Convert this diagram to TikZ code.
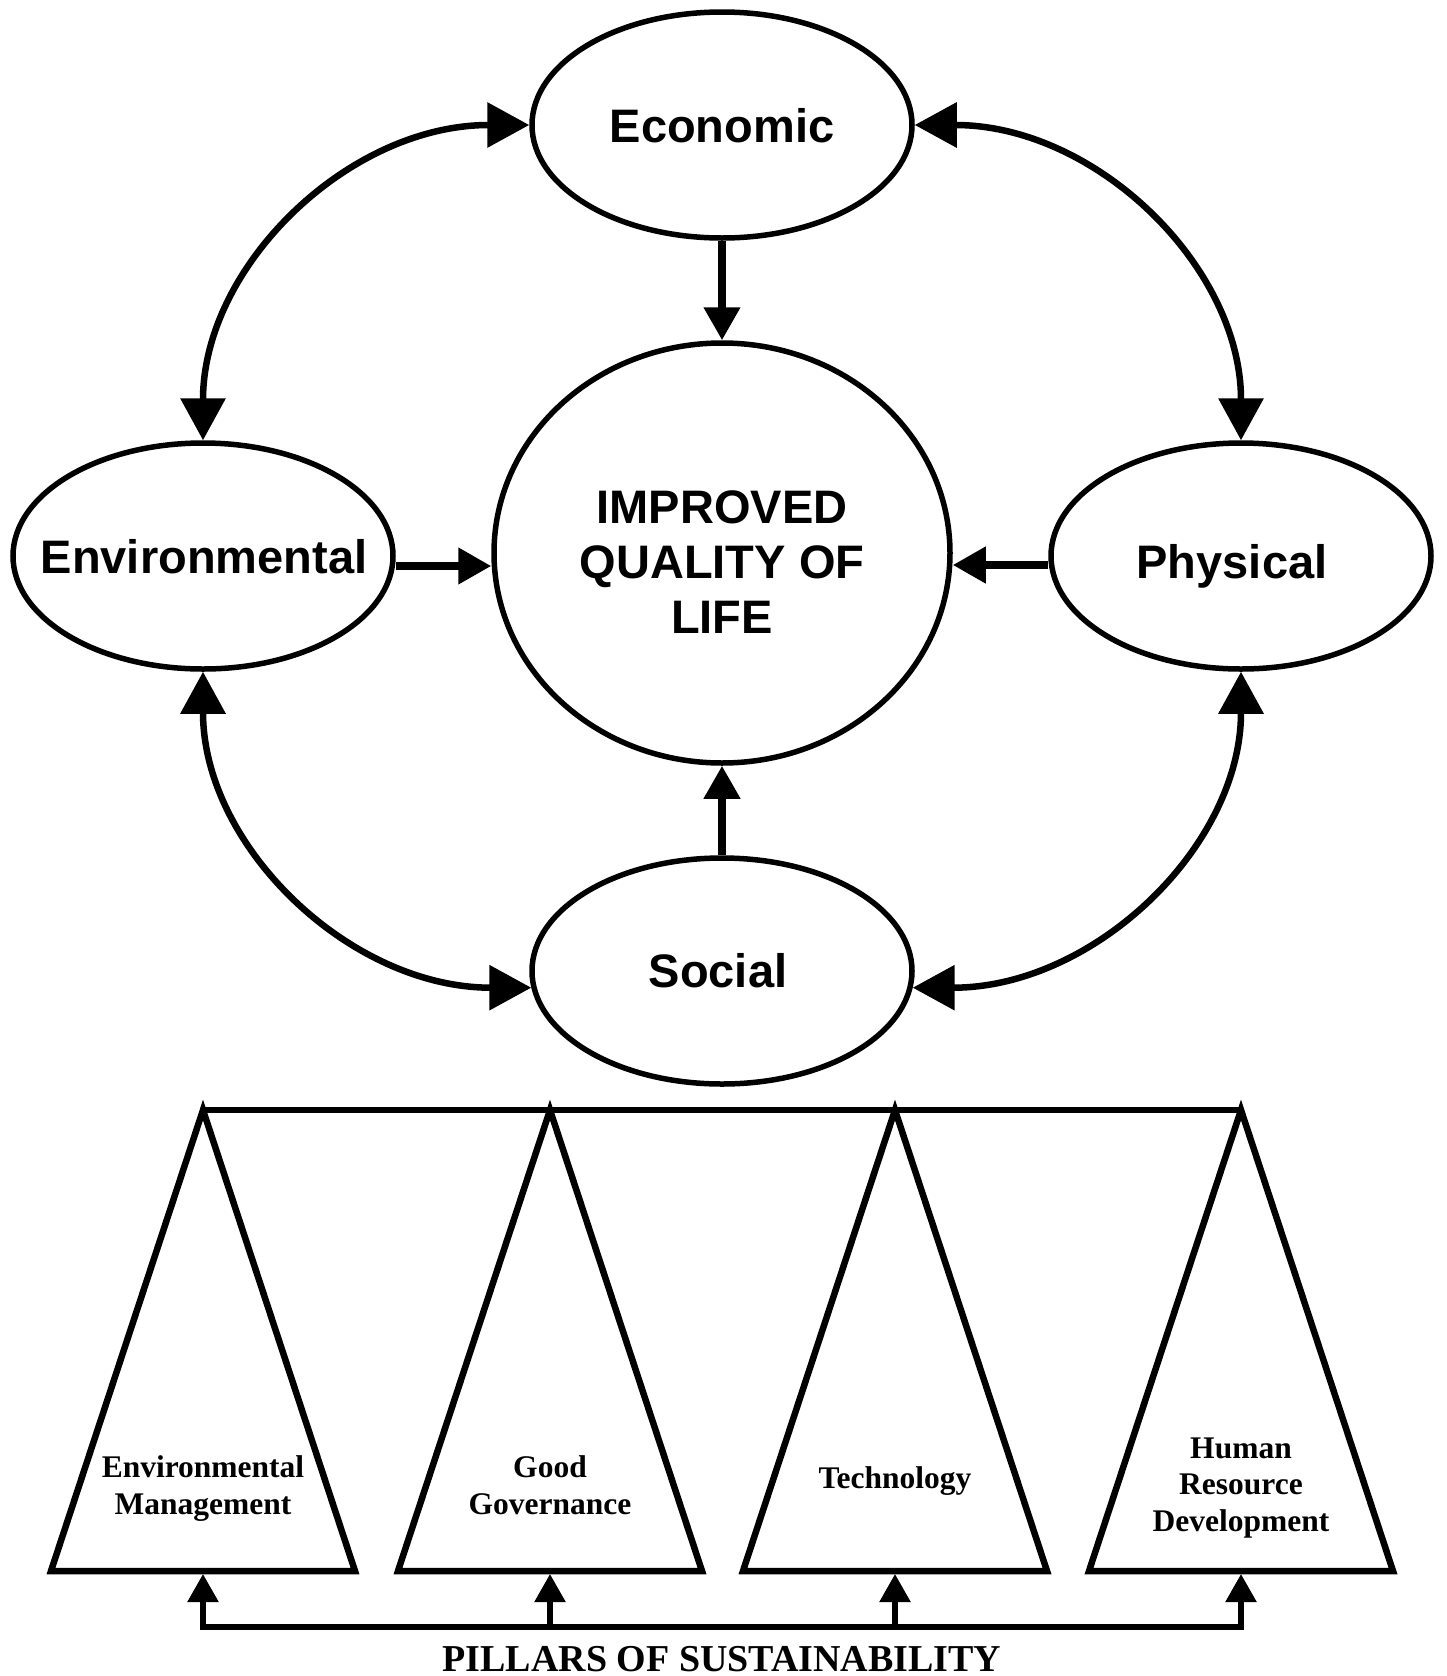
\documentclass[tikz,border=0pt]{standalone}
\usepackage{fontspec}
\setmainfont{Liberation Serif}
\newfontfamily\arialf{Liberation Sans}
\usetikzlibrary{arrows.meta,shapes.geometric,calc}
\begin{document}
\begin{tikzpicture}[x=1pt,y=-1pt,
  ell/.style={ellipse,draw,line width=5.5pt,inner sep=0pt},
  ovl/.style={ell,minimum width=380pt,minimum height=226pt},
  big/.style={font=\arialf\bfseries\fontsize{47}{55}\selectfont,anchor=base,inner sep=0pt},
  small/.style={font=\bfseries\fontsize{31.5}{36}\selectfont,anchor=base,inner sep=0pt},
  sarr/.style={line width=7.5pt,-{Triangle[length=33pt,width=35pt]}},
  carr/.style={line width=6.5pt,{Triangle[length=42pt,width=44pt]}-{Triangle[length=42pt,width=44pt]}},
  tri/.style={line width=6.5pt,line join=miter},
  parr/.style={line width=5.5pt,line cap=rect,-{Triangle[length=28pt,width=30pt]}}]
\useasboundingbox (0,0) rectangle (1446,1676);

% ellipses
\node[ovl] (econ) at (722,125) {};
\node[ovl] (env) at (203,556) {};
\node[ovl] (phys) at (1241,556) {};
\node[ovl] (soc) at (722,971) {};
\node[ell,minimum width=456pt,minimum height=420pt] (qol) at (722,553) {};

% labels
\node[big] (econT) at (722,142) {Economic};
\node[big] (envT) at (204,573) {Environmental};
\node[big] (physT) at (1232,578) {Physical};
\node[big] (socT) at (718,987) {Social};
\node[big] (q1) at (722,523) {IMPROVED};
\node[big] (q2) at (722,578) {QUALITY OF};
\node[big] (q3) at (722,633) {LIFE};

% straight arrows
\draw[sarr] (econ.south) -- (qol.north);
\draw[sarr] (soc.north) -- (qol.south);
\draw[sarr] ($(env.east)+(0,10)$) -- ($(qol.west)+(0,13)$);
\draw[sarr] ($(phys.west)+(0,9)$) -- ($(qol.east)+(0,12)$);

% curved double arrows
\draw[carr] (env.north) .. controls +(0,-174) and +(-181,0) .. (econ.west);
\draw[carr] (econ.east) .. controls +(181,0) and +(0,-174) .. (phys.north);
\draw[carr] (env.south) .. controls +(0,175) and +(-181,0) .. (soc.185);
\draw[carr] (phys.south) .. controls +(0,175) and +(181,0) .. (soc.355);

% pillars
\coordinate (a1) at (203,1110);
\coordinate (a2) at (550,1110);
\coordinate (a3) at (895,1110);
\coordinate (a4) at (1241,1110);
\draw[line width=6.5pt] (a1) -- (a4);
\foreach \p in {a1,a2,a3,a4}{
  \draw[tri] (\p) -- ++(152,461) -- ++(-304,0) -- cycle;
}

\node[small] (t1a) at (203,1477) {Environmental};
\node[small] (t1b) at (203,1514) {Management};
\node[small] (t2a) at (550,1477) {Good};
\node[small] (t2b) at (550,1514) {Governance};
\node[small] (t3a) at (895,1488) {Technology};
\node[small] (t4a) at (1241,1458) {Human};
\node[small] (t4b) at (1241,1494.5) {Resource};
\node[small] (t4c) at (1241,1531) {Development};

% bracket
\coordinate (b1) at (203,1627);
\coordinate (b2) at (550,1627);
\coordinate (b3) at (895,1627);
\coordinate (b4) at (1241,1627);
\coordinate (m1) at (203,1574);
\coordinate (m2) at (550,1574);
\coordinate (m3) at (895,1574);
\coordinate (m4) at (1241,1574);
\draw[line width=5.5pt,line cap=rect] (b1) -- (b4);
\draw[parr] (b1) -- (m1);
\draw[parr] (b2) -- (m2);
\draw[parr] (b3) -- (m3);
\draw[parr] (b4) -- (m4);

\node[font=\bfseries\fontsize{38}{44}\selectfont,anchor=base,inner sep=0pt] (pil) at (722,1671) {PILLARS OF SUSTAINABILITY};
\end{tikzpicture}
\end{document}
